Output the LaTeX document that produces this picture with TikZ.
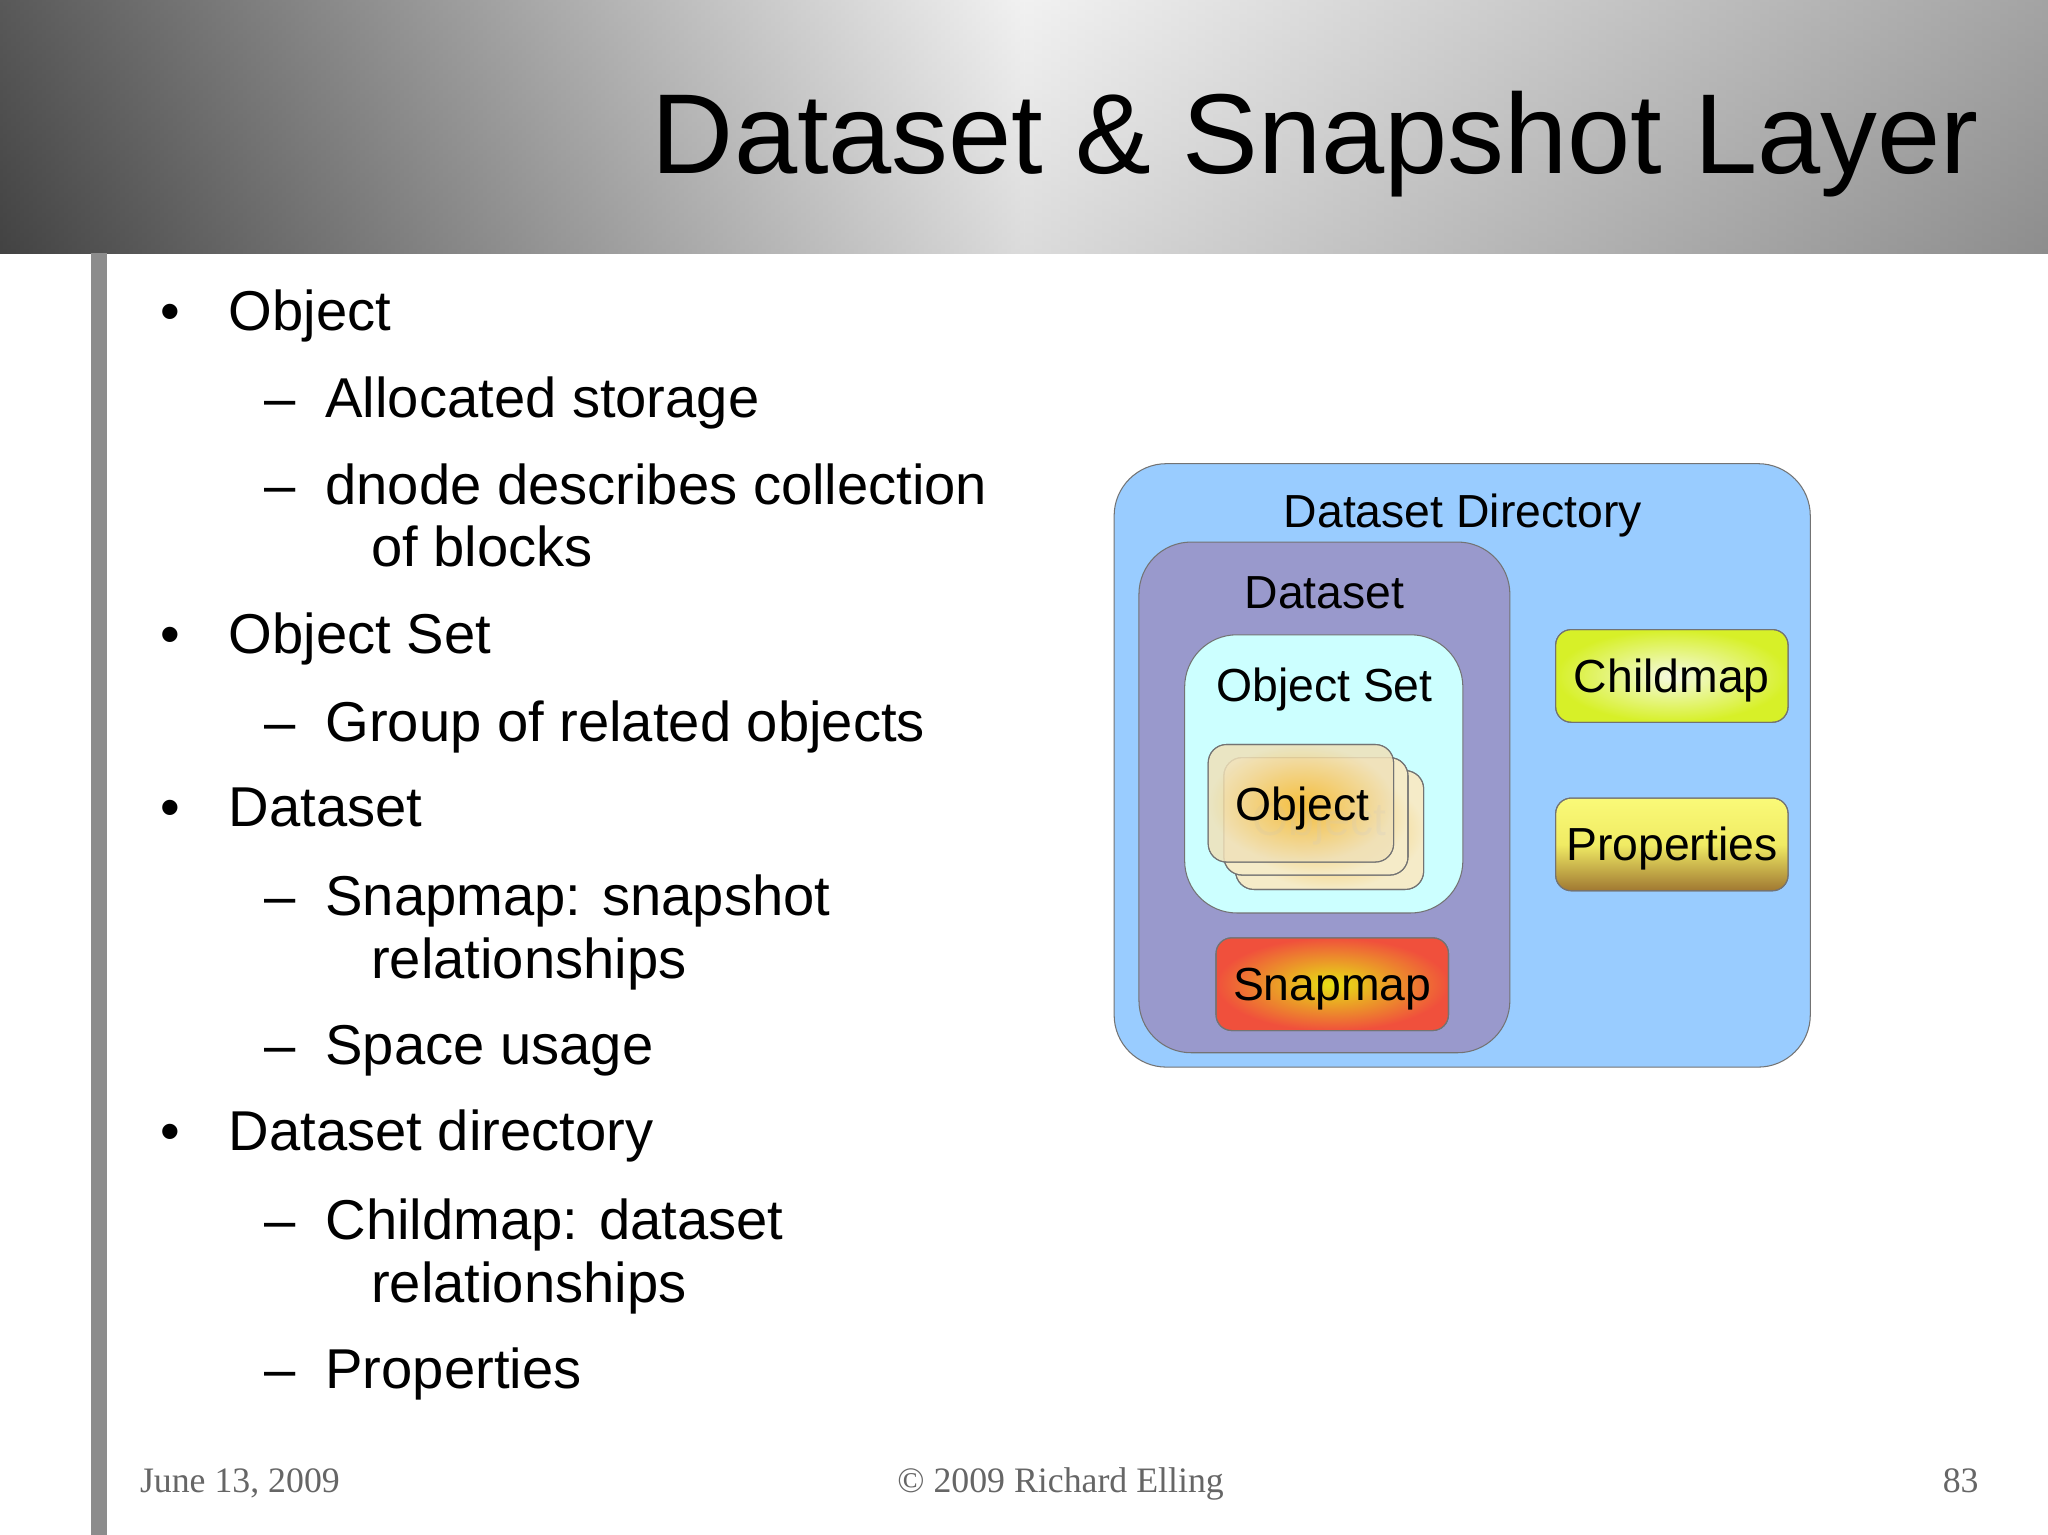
\documentclass[tikz,border=0pt]{standalone}
\usepackage{fontspec}
\setmainfont{Liberation Sans}
\newfontfamily\footfont{Liberation Serif}
\begin{document}
\begin{tikzpicture}[x=1pt,y=-1pt,
  bul/.style={anchor=base west,font=\fontsize{43}{43}\selectfont,inner sep=0},
  foot/.style={anchor=base,font=\footfont\fontsize{27.4}{27.4}\selectfont,text=black!60,inner sep=0},
  box/.style={draw=black!55,line width=0.8pt,rounded corners=#1},
  lab/.style={font=\fontsize{35.5}{35.5}\selectfont,inner sep=0,anchor=base}]
\useasboundingbox (0,0) rectangle (1568,1175);
\fill[white] (0,0) rectangle (1568,1175);
% header
\shade[left color=black, right color=black!55, middle color=black!8] (0,0) rectangle (1568,194);
\shade[top color=white,bottom color=black!25,opacity=0.35] (0,0) rectangle (1568,194);
\node[anchor=base east,inner sep=0,font=\fontsize{87}{87}\selectfont] (title) at (1515,133) {Dataset \& Snapshot Layer};
\fill[black!45] (70,194) rectangle (82,1175);
% bullets
\foreach \y/\t in {253/Object,500/Object Set,633/Dataset,881/Dataset directory}{
  \node[bul] at (123,\y) {\textbullet};
  \node[bul] at (175,\y) {\t};}
\foreach \y/\t in {320/Allocated storage,386/dnode describes collection,568/Group of related objects,701/Snapmap: snapshot,815/Space usage,949/Childmap: dataset,1063/Properties}{
  \node[bul] at (202,\y) {–};
  \node[bul] at (249,\y) {\t};}
\foreach \y/\t in {434/of blocks,749/relationships,997/relationships}{
  \node[bul] at (284,\y) {\t};}
% footer
\node[foot,anchor=base west] (date) at (107,1143) {June 13, 2009};
\node[foot] (copy) at (812,1143) {© 2009 Richard Elling};
\node[foot,anchor=base east] (page) at (1515,1143) {83};
% diagram
\draw[box=40pt,fill={rgb,255:red,153;green,204;blue,255}] (853,355) rectangle (1386,817);
\node[lab] (dd) at (1120,404) {Dataset Directory};
\draw[box=40pt,fill={rgb,255:red,153;green,153;blue,204}] (872,415) rectangle (1156,806);
\node[lab] (ds) at (1014,466) {Dataset};
\draw[box=40pt,fill={rgb,255:red,204;green,255;blue,255}] (907,486) rectangle (1120,699);
\node[lab] (os) at (1014,537) {Object Set};
\foreach \a/\b/\c/\d in {946/590/1090/681,937/580/1078/670}{
  \shade[box=14pt,inner color={rgb,255:red,245;green,190;blue,60},outer color={rgb,255:red,245;green,235;blue,200}] (\a,\b) rectangle (\c,\d);
  \draw[box=14pt] (\a,\b) rectangle (\c,\d);}
\node[lab,text=black!25] (ghost) at (1010,640) {Object};
\shade[box=14pt,inner color={rgb,255:red,245;green,190;blue,60},outer color={rgb,255:red,240;green,225;blue,185},opacity=0.85] (925,570) rectangle (1067,660);
\draw[box=14pt] (925,570) rectangle (1067,660);
\node[lab] (obj) at (997,628) {Object};
\shade[box=12pt,inner color={rgb,255:red,230;green,225;blue,20},outer color={rgb,255:red,240;green,80;blue,60}] (931,718) rectangle (1109,789);
\draw[box=12pt] (931,718) rectangle (1109,789);
\node[lab] (snap) at (1020,766) {Snapmap};
\shade[box=12pt,inner color={rgb,255:red,245;green,250;blue,225},outer color={rgb,255:red,215;green,240;blue,40}] (1191,482) rectangle (1369,553);
\draw[box=12pt] (1191,482) rectangle (1369,553);
\node[lab] (child) at (1280,530) {Childmap};
\shade[box=12pt,shading angle=135,top color={rgb,255:red,250;green,250;blue,120},bottom color={rgb,255:red,160;green,120;blue,50},middle color={rgb,255:red,240;green,235;blue,100}] (1191,611) rectangle (1369,682);
\draw[box=12pt] (1191,611) rectangle (1369,682);
\node[lab] (prop) at (1280,659) {Properties};
\end{tikzpicture}
\end{document}
